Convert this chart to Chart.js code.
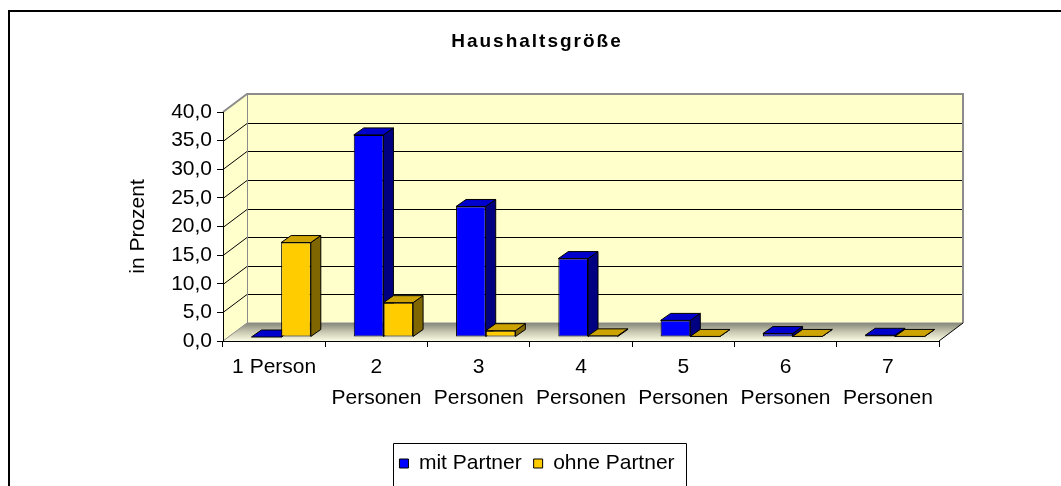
<!DOCTYPE html>
<html>
<head>
<meta charset="utf-8">
<script src="https://cdn.jsdelivr.net/npm/chart.js@4.4.1/dist/chart.umd.min.js"></script>
<style>
  html, body { margin: 0; padding: 0; background: #ffffff; }
  canvas { display: block; }
</style>
</head>
<body>
<canvas id="c" width="1061" height="486"></canvas>
<script>
// ---- data ----
const categories = ['1 Person', '2 Personen', '3 Personen', '4 Personen', '5 Personen', '6 Personen', '7 Personen'];
const tickLabels = [['1 Person'], ['2', 'Personen'], ['3', 'Personen'], ['4', 'Personen'], ['5', 'Personen'], ['6', 'Personen'], ['7', 'Personen']];
const mitPartner = [0.0, 35.3, 22.8, 13.7, 2.9, 0.6, 0.3];
const ohnePartner = [16.5, 6.0, 1.1, 0.2, 0.1, 0.1, 0.1];
const seriesNames = ['mit Partner', 'ohne Partner'];
const yTicks = [0, 5, 10, 15, 20, 25, 30, 35, 40];
const chartTitle = 'Haushaltsgröße';
const yTitle = 'in Prozent';

// ---- 3D look ----
const WALL = { dx: 24, dy: -18 };
const BAR = { dx: 10, dy: -7 };
const SHIFT = { x: 7, y: -4 };
const faceColors = [
  { top: '#0000CC', side: '#000080' },
  { top: '#CCA300', side: '#7F6600' }
];

const threeD = {
  id: 'threeD',
  afterInit(chart) {
    const tb = chart.titleBlock;
    if (tb && !tb._spaced) {
      const orig = tb.draw.bind(tb);
      tb.draw = function (area) {
        const ctx = chart.ctx;
        ctx.save();
        try { ctx.letterSpacing = '2px'; } catch (e) {}
        orig(area);
        ctx.restore();
      };
      tb._spaced = true;
    }
  },
  beforeDraw(chart) {
    const ctx = chart.ctx;
    const { left, right, top, bottom } = chart.chartArea;
    const ys = chart.scales.y;
    ctx.save();
    ctx.fillStyle = '#ffffff';
    ctx.fillRect(0, 0, chart.width, chart.height);
    // outer border
    ctx.strokeStyle = '#000';
    ctx.lineWidth = 2;
    ctx.beginPath();
    ctx.moveTo(9, chart.height + 5);
    ctx.lineTo(9, 11);
    ctx.lineTo(chart.width + 5, 11);
    ctx.stroke();

    const dx = WALL.dx, dy = WALL.dy;
    // left wall
    ctx.fillStyle = '#FFFFCC';
    ctx.beginPath();
    ctx.moveTo(left, top); ctx.lineTo(left + dx, top + dy);
    ctx.lineTo(left + dx, bottom + dy); ctx.lineTo(left, bottom);
    ctx.closePath(); ctx.fill();
    // back wall
    ctx.fillRect(left + dx, top + dy, right - left, bottom - top);
    // floor
    const g = ctx.createLinearGradient(0, bottom + dy, 0, bottom);
    g.addColorStop(0, '#86867a');
    g.addColorStop(0.5, '#c9c9b2');
    g.addColorStop(1, '#fbfbe4');
    ctx.fillStyle = g;
    ctx.beginPath();
    ctx.moveTo(left, bottom); ctx.lineTo(left + dx, bottom + dy);
    ctx.lineTo(right + dx, bottom + dy); ctx.lineTo(right, bottom);
    ctx.closePath(); ctx.fill();

    // grid lines
    ctx.strokeStyle = '#000';
    ctx.lineWidth = 1;
    yTicks.forEach(v => {
      if (v === 0 || v === 40) return;
      const y = Math.round(ys.getPixelForValue(v)) + 0.5;
      ctx.beginPath();
      ctx.moveTo(left, y);
      ctx.lineTo(left + dx, y + dy);
      ctx.lineTo(right + dx, y + dy);
      ctx.stroke();
    });
    // gray outlines
    ctx.strokeStyle = '#8c8c8c';
    ctx.lineWidth = 2;
    ctx.beginPath();
    ctx.moveTo(left, top); ctx.lineTo(left + dx, top + dy);
    ctx.lineTo(right + dx, top + dy); ctx.lineTo(right + dx, bottom + dy);
    ctx.stroke();
    ctx.lineWidth = 1;
    ctx.beginPath();
    ctx.moveTo(left + dx + 0.5, top + dy); ctx.lineTo(left + dx + 0.5, bottom + dy);
    ctx.lineTo(right + dx, bottom + dy);
    ctx.moveTo(left, bottom); ctx.lineTo(left + dx, bottom + dy);
    ctx.stroke();
    ctx.strokeStyle = '#000';
    ctx.beginPath();
    ctx.moveTo(right, bottom); ctx.lineTo(right + dx, bottom + dy);
    ctx.stroke();
    ctx.restore();
  },
  beforeDatasetsDraw(chart) {
    const ctx = chart.ctx;
    ctx.save();
    ctx.translate(SHIFT.x, SHIFT.y);
    const n = chart.data.labels.length;
    for (let i = 0; i < n; i++) {
      chart.data.datasets.forEach((ds, d) => {
        const el = chart.getDatasetMeta(d).data[i];
        if (!el) return;
        const { x, y, width, base } = el.getProps(['x', 'y', 'width', 'base'], true);
        const l = x - width / 2, r = x + width / 2;
        ctx.lineWidth = 1;
        ctx.strokeStyle = '#000';
        // side
        ctx.fillStyle = faceColors[d].side;
        ctx.beginPath();
        ctx.moveTo(r, y); ctx.lineTo(r + BAR.dx, y + BAR.dy);
        ctx.lineTo(r + BAR.dx, base + BAR.dy); ctx.lineTo(r, base);
        ctx.closePath(); ctx.fill(); ctx.stroke();
        // top
        ctx.fillStyle = faceColors[d].top;
        ctx.beginPath();
        ctx.moveTo(l, y); ctx.lineTo(l + BAR.dx, y + BAR.dy);
        ctx.lineTo(r + BAR.dx, y + BAR.dy); ctx.lineTo(r, y);
        ctx.closePath(); ctx.fill(); ctx.stroke();
      });
    }
  },
  afterDatasetsDraw(chart) {
    chart.ctx.restore();
  },
  afterDraw(chart) {
    const lg = chart.legend;
    if (!lg || !lg.legendHitBoxes || !lg.legendHitBoxes.length) return;
    const hb = lg.legendHitBoxes;
    const first = hb[0], last = hb[hb.length - 1];
    const ctx = chart.ctx;
    ctx.save();
    ctx.strokeStyle = '#000';
    ctx.lineWidth = 1;
    const x0 = Math.round(first.left - 6) + 0.5;
    const x1 = Math.round(last.left + last.width + 11) + 0.5;
    const y0 = Math.round(first.top - 10) + 0.5;
    ctx.beginPath();
    ctx.moveTo(x0, chart.height + 5);
    ctx.lineTo(x0, y0);
    ctx.lineTo(x1, y0);
    ctx.lineTo(x1, chart.height + 5);
    ctx.stroke();
    ctx.restore();
  }
};

Chart.defaults.font.family = "'Liberation Sans', Arial, sans-serif";
Chart.defaults.color = '#000';

new Chart(document.getElementById('c'), {
  type: 'bar',
  data: {
    labels: tickLabels,
    datasets: [
      { label: seriesNames[0], data: mitPartner, backgroundColor: '#0000FF', borderColor: '#000', borderWidth: 1, borderSkipped: false, clip: false },
      { label: seriesNames[1], data: ohnePartner, backgroundColor: '#FFCC00', borderColor: '#000', borderWidth: 1, borderSkipped: false, clip: false }
    ]
  },
  options: {
    responsive: false,
    devicePixelRatio: 1,
    animation: false,
    categoryPercentage: 0.58,
    barPercentage: 1.0,
    layout: { padding: { left: 135, right: 122, top: 0, bottom: 2 } },
    plugins: {
      title: {
        display: true, text: chartTitle,
        font: { size: 19, weight: 'bold' },
        color: '#000',
        padding: { top: 30.5, bottom: 58.7 }
      },
      legend: {
        position: 'bottom',
        labels: { font: { size: 21 }, boxWidth: 9, boxHeight: 9, padding: 12, color: '#000' }
      },
      tooltip: { enabled: false }
    },
    scales: {
      x: {
        grid: { offset: true, drawOnChartArea: false, drawTicks: true, tickLength: 6, color: '#000' },
        border: { display: true, color: '#000', width: 1 },
        ticks: { padding: 4, font: { size: 21, lineHeight: 1.5 }, color: '#000', maxRotation: 0, autoSkip: false },
        afterFit(s) { s.height = 100; }
      },
      y: {
        min: 0, max: 40,
        afterBuildTicks(s) { s.ticks = yTicks.map(v => ({ value: v })); },
        grid: { drawOnChartArea: false, drawTicks: true, tickLength: 6, color: '#000' },
        border: { display: true, color: '#000', width: 1 },
        ticks: { padding: 5, font: { size: 21 }, color: '#000', callback: v => v.toFixed(1).replace('.', ',') },
        title: { display: true, text: yTitle, font: { size: 21 }, color: '#000', padding: { top: -9.6, bottom: 0 } },
        afterFit(s) { s.width = 88; }
      }
    }
  },
  plugins: [threeD]
});
</script>
</body>
</html>
